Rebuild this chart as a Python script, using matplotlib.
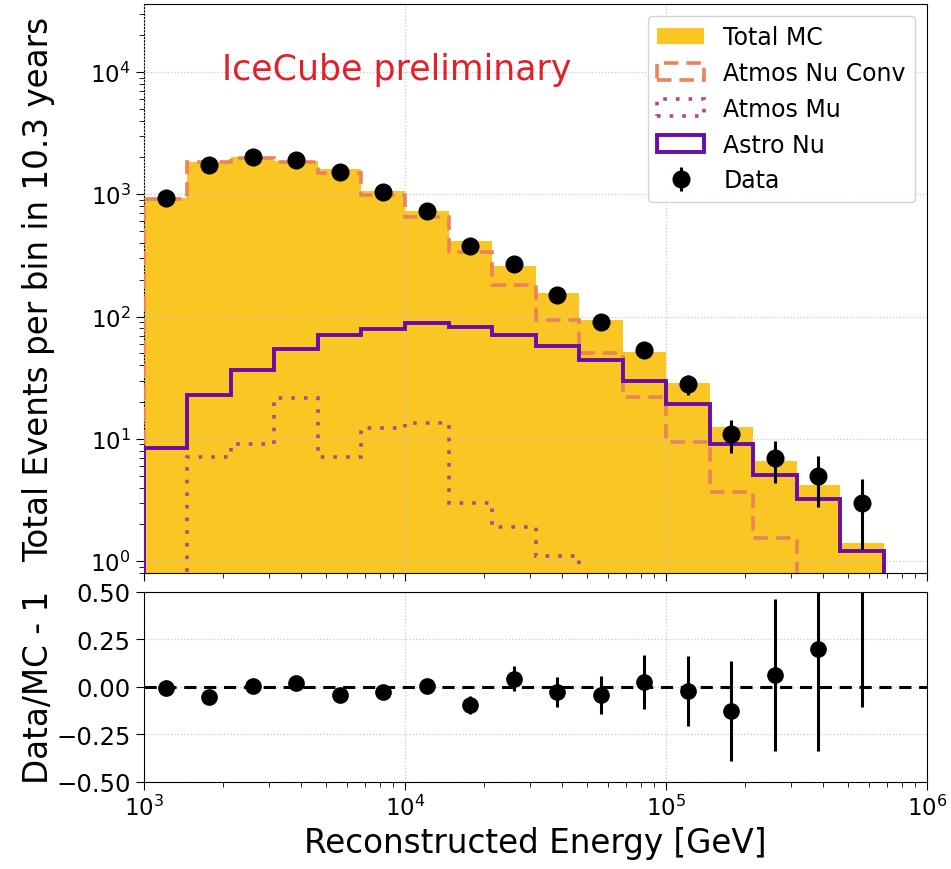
import numpy as np
import matplotlib
matplotlib.use("Agg")
import matplotlib.pyplot as plt

# Reconstructed-energy binning: six bins per decade from 1 TeV to ~680 TeV
log_edges = np.arange(3.0, 5.8334, 1.0 / 6.0)
edges = 10 ** log_edges
centers = 10 ** (0.5 * (log_edges[:-1] + log_edges[1:]))

# Event counts per bin (10.3 years)
data_counts = [927, 1738, 2010, 1890, 1535, 1038, 735, 377, 268, 151, 90, 53, 28, 11, 7, 5, 3]
total_mc = [933, 1835, 2002, 1857, 1604, 1065, 732, 417, 257, 155, 94, 51.7, 28.7, 12.6, 6.6, 4.17, 1.42]
atmos_nu_conv = [922, 1820, 1973, 1820, 1507, 986, 656, 339, 180, 94, 50, 21.9, 9.5, 3.7, 1.56, 0.6, 0.2]
atmos_mu = [0.3, 7.1, 9.0, 21.4, 7.1, 12.3, 13.5, 3.0, 1.9, 1.1, 0.3, 0.2, 0.1, 0.1, 0.1, 0.1, 0.1]
astro_nu = [8.4, 22.9, 36.3, 54.7, 70.3, 79.5, 88.5, 81.5, 70.3, 58, 43.8, 29.5, 19.2, 9.0, 5.1, 3.2, 1.2]

data = np.array(data_counts, dtype=float)
mc = np.array(total_mc, dtype=float)
data_err = np.sqrt(data)
ratio = data / mc - 1.0
ratio_err = data_err / mc

c_total = "#f9c623"
c_conv = "#ec8258"
c_mu = "#b5448c"
c_astro = "#6a0ca8"

fig = plt.figure(figsize=(9.51, 8.70), dpi=100)
ax1 = fig.add_axes([0.1514, 0.3402, 0.8234, 0.6541])
ax2 = fig.add_axes([0.1514, 0.1003, 0.8234, 0.2184], sharex=ax1)

tick_fs = 16.5
label_fs = 23.5

# Upper panel: stacked expectation and data
ax1.hist(centers, bins=edges, weights=total_mc, histtype="stepfilled",
         color=c_total, label="Total MC", zorder=1)
ax1.hist(centers, bins=edges, weights=atmos_nu_conv, histtype="step",
         color=c_conv, ls=(0, (4, 2.2)), lw=2.6, label="Atmos Nu Conv", zorder=3)
ax1.hist(centers, bins=edges, weights=atmos_mu, histtype="step",
         color=c_mu, ls=(0, (1, 2.5)), lw=2.6, label="Atmos Mu", zorder=3)
ax1.hist(centers, bins=edges, weights=astro_nu, histtype="step",
         color=c_astro, lw=2.8, label="Astro Nu", zorder=4)
ax1.errorbar(centers, data, yerr=data_err, fmt="o", color="black",
             ms=12, elinewidth=2.2, capsize=0, label="Data", zorder=5)

ax1.set_xscale("log")
ax1.set_yscale("log")
ax1.set_xlim(1e3, 1e6)
ax1.set_ylim(0.80, 3.6e4)
ax1.grid(True, which="major", ls=":", color="#c8c8c8", lw=0.9)
ax1.set_axisbelow(False)
ax1.set_ylabel("Total Events per bin in 10.3 years", fontsize=label_fs)
ax1.tick_params(axis="both", which="major", labelsize=tick_fs, length=6)
ax1.tick_params(axis="both", which="minor", length=3.5)
ax1.tick_params(axis="x", labelbottom=False)

ax1.text(0.10, 0.885, "IceCube preliminary", transform=ax1.transAxes,
         color="#e0202a", fontsize=25, ha="left", va="center")

leg = ax1.legend(loc="upper right", fontsize=17, framealpha=0.9,
                 edgecolor="#d0d0d0", handlelength=2.0, labelspacing=0.5)

# Lower panel: relative deviation of data from expectation
ax2.axhline(0.0, color="black", ls=(0, (4, 2.5)), lw=2.2, zorder=2)
ax2.errorbar(centers, ratio, yerr=ratio_err, fmt="o", color="black",
             ms=11, elinewidth=2.2, capsize=0, zorder=3)
ax2.set_ylim(-0.5, 0.5)
ax2.set_yticks([-0.5, -0.25, 0.0, 0.25, 0.5])
ax2.grid(True, which="major", ls=":", color="#c8c8c8", lw=0.9)
ax2.set_xlabel("Reconstructed Energy [GeV]", fontsize=label_fs)
ax2.set_ylabel("Data/MC - 1", fontsize=label_fs)
ax2.tick_params(axis="both", which="major", labelsize=tick_fs, length=6)
ax2.tick_params(axis="y", which="major", labelsize=17.5)
ax2.tick_params(axis="both", which="minor", length=3.5)

for ax in (ax1, ax2):
    ax.yaxis.set_label_coords(-0.114, 0.5)

fig.savefig("out.png", dpi=100)
